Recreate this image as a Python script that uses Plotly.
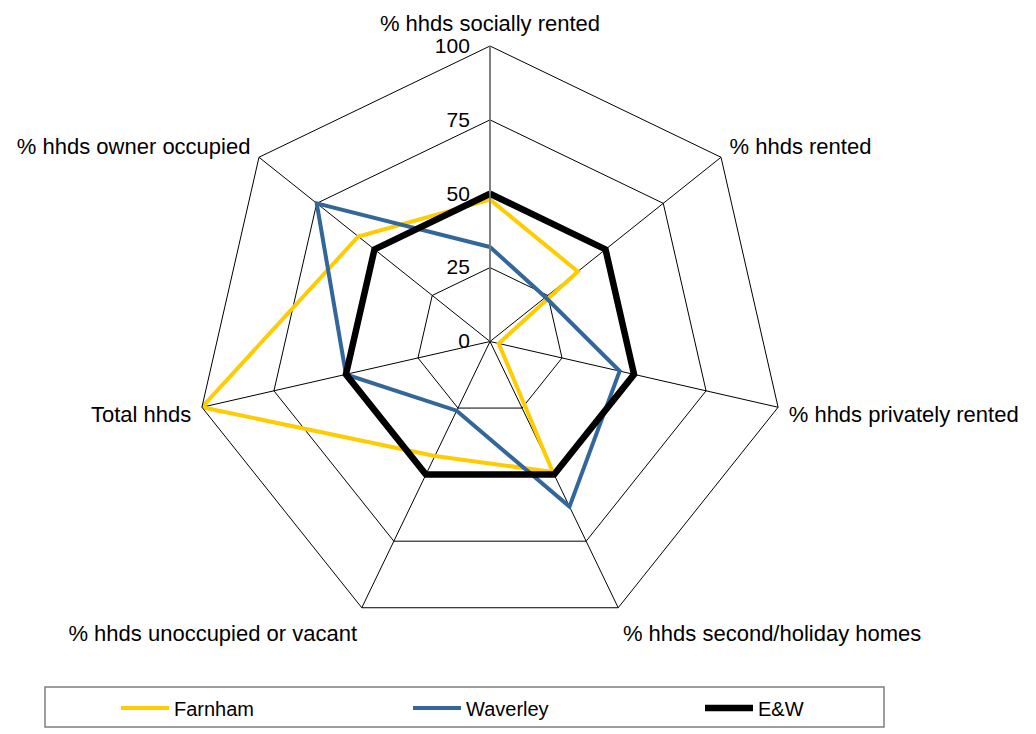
import plotly.graph_objects as go

categories = [
    "% hhds socially rented",
    "% hhds rented",
    "% hhds privately rented",
    "% hhds second/holiday homes",
    "% hhds unoccupied or vacant",
    "Total hhds",
    "% hhds owner occupied",
]
farnham = [48, 38, 3, 49, 43, 100, 57]
waverley = [32, 24, 45, 62, 26, 50, 75]
ew = [50, 50, 50, 50, 50, 50, 50]
radial_ticks = [0, 25, 50, 75, 100]

series = [
    ("Farnham", farnham, "#FFCC00", 4),
    ("Waverley", waverley, "#336699", 4),
    ("E&W", ew, "#000000", 6.5),
]

fig = go.Figure()
for name, vals, color, w in series:
    fig.add_trace(go.Scatterpolar(
        r=vals + vals[:1],
        theta=categories + categories[:1],
        mode="lines",
        name=name,
        line=dict(color=color, width=w),
    ))

# page has an 8px body margin; figure sized to fit the window
W, H = 1028, 726
off = 8
cx, cy, R = 490 - off, 341.5 - off, 295.5

fig.update_layout(
    width=W, height=H,
    margin=dict(l=0, r=0, t=0, b=0),
    paper_bgcolor="white",
    font=dict(family="Arial, Liberation Sans, sans-serif", size=22, color="black"),
    polar=dict(
        domain=dict(x=[(cx - R) / W, (cx + R) / W], y=[1 - (cy + R) / H, 1 - (cy - R) / H]),
        gridshape="linear",
        bgcolor="white",
        angularaxis=dict(
            direction="clockwise",
            rotation=90,
            showgrid=True,
            gridcolor="black",
            gridwidth=1,
            showline=True,
            linecolor="black",
            linewidth=1,
            ticks="outside",
            ticklen=6,
            tickcolor="rgba(0,0,0,0)",
            tickfont=dict(size=22),
        ),
        radialaxis=dict(
            range=[0, 100],
            tickvals=radial_ticks,
            ticktext=[str(v) for v in radial_ticks],
            angle=90,
            tickangle=90,
            side="counterclockwise",
            showline=True,
            linecolor="#808080",
            linewidth=1.5,
            gridcolor="black",
            gridwidth=1,
            ticks="outside",
            ticklen=12,
            tickcolor="rgba(0,0,0,0)",
            tickfont=dict(size=21),
        ),
    ),
    showlegend=True,
    legend=dict(
        orientation="h",
        x=(116 - off) / W, xanchor="left",
        y=1 - (708 - off) / H, yanchor="middle",
        bgcolor="rgba(0,0,0,0)",
        borderwidth=0,
        itemwidth=48,
        entrywidth=229,
        entrywidthmode="pixels",
        font=dict(size=20),
    ),
    shapes=[dict(
        type="rect", xref="paper", yref="paper",
        x0=(45 - off) / W, x1=(884 - off) / W,
        y0=1 - (727 - off) / H, y1=1 - (687 - off) / H,
        line=dict(color="#7f7f7f", width=1.5),
        fillcolor="rgba(0,0,0,0)",
    )],
)

fig.write_html("out.html")
